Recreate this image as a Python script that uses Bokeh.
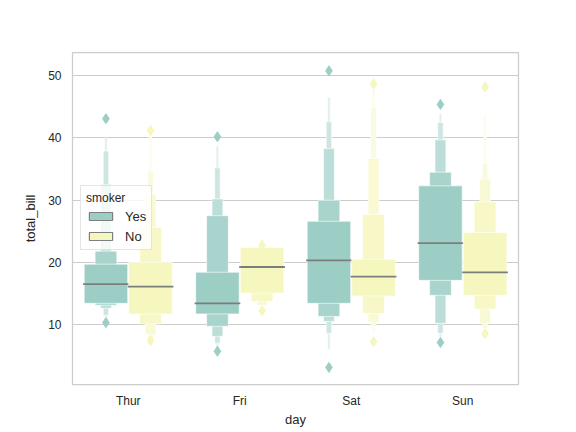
from bokeh.embed import file_html
from bokeh.models import (ColumnDataSource, FactorRange, FixedTicker, Legend,
                          LegendItem, Range1d)
from bokeh.plotting import figure
from bokeh.resources import INLINE
from bokeh.transform import dodge

days = ["Thur", "Fri", "Sat", "Sun"]

# letter-value boxes, innermost level first (lower / upper edge of each level)
thur_yes_lo = [13.4, 13.1, 12.6, 11.5, 10.8]
thur_yes_hi = [19.7, 21.8, 32.5, 37.9, 40.0]
thur_yes_med = 16.5
thur_yes_out = [43.1, 10.3]

thur_no_lo = [11.7, 10.1, 8.4, 7.7, 7.6]
thur_no_hi = [20.0, 25.6, 30.9, 34.6, 40.6]
thur_no_med = 16.1
thur_no_out = [41.2, 7.4]

fri_yes_lo = [11.7, 9.7, 8.1, 7.0, 6.2]
fri_yes_hi = [18.4, 27.5, 30.2, 35.2, 38.7]
fri_yes_med = 13.4
fri_yes_out = [40.2, 5.7]

fri_no_lo = [15.05, 13.7, 13.1]
fri_no_hi = [22.4, 22.5, 22.6]
fri_no_med = 19.25
fri_no_out = [22.75, 12.2]

sat_yes_lo = [13.4, 11.3, 10.5, 8.6, 6.0]
sat_yes_hi = [26.6, 30.0, 38.3, 42.6, 46.5]
sat_yes_med = 20.3
sat_yes_out = [50.8, 3.1]

sat_no_lo = [14.6, 11.8, 10.4, 9.7, 8.8]
sat_no_hi = [20.5, 27.7, 36.7, 44.9, 48.1]
sat_no_med = 17.7
sat_no_out = [48.7, 7.25]

sun_yes_lo = [17.1, 14.7, 10.2, 8.6, 7.9]
sun_yes_hi = [32.3, 34.5, 39.7, 42.5, 43.9]
sun_yes_med = 23.1
sun_yes_out = [45.4, 7.1]

sun_no_lo = [14.7, 12.5, 10.2, 9.4, 8.9]
sun_no_hi = [24.8, 29.7, 33.4, 35.9, 43.5]
sun_no_med = 18.4
sun_no_out = [48.2, 8.5]

yes_groups = [(thur_yes_lo, thur_yes_hi, thur_yes_med, thur_yes_out),
              (fri_yes_lo, fri_yes_hi, fri_yes_med, fri_yes_out),
              (sat_yes_lo, sat_yes_hi, sat_yes_med, sat_yes_out),
              (sun_yes_lo, sun_yes_hi, sun_yes_med, sun_yes_out)]
no_groups = [(thur_no_lo, thur_no_hi, thur_no_med, thur_no_out),
             (fri_no_lo, fri_no_hi, fri_no_med, fri_no_out),
             (sat_no_lo, sat_no_hi, sat_no_med, sat_no_out),
             (sun_no_lo, sun_no_hi, sun_no_med, sun_no_out)]

YES_COLOR = "#9dcec6"
NO_COLOR = "#f6f6bf"
FADE = [0.0, 0.12, 0.32, 0.5, 0.7]
FONT = "Liberation Sans"
NAN = float("nan")


def lighten(hex_color, amount):
    rgb = [int(hex_color[i:i + 2], 16) for i in (1, 3, 5)]
    rgb = [round(c + (255 - c) * amount) for c in rgb]
    return "#{:02x}{:02x}{:02x}".format(*rgb)


def build_sources(groups, color):
    boxes = {'day': [], 'lo': [], 'hi': [], 'w': [], 'color': []}
    meds = {'day': [], 'med': []}
    outs = {'day': [], 'y': []}
    for day, (lo, hi, med, out) in zip(days, groups):
        # deepest (narrowest) levels first so the main box sits on top
        for level in reversed(range(len(lo))):
            boxes['day'].append(day)
            boxes['lo'].append(lo[level])
            boxes['hi'].append(hi[level])
            boxes['w'].append(0.39 * 0.5 ** level)
            boxes['color'].append(lighten(color, FADE[level]))
        meds['day'].append(day)
        meds['med'].append(med)
        for y in out:
            outs['day'].append(day)
            outs['y'].append(y)
    return (ColumnDataSource(boxes), ColumnDataSource(meds),
            ColumnDataSource(outs))


p = figure(x_range=FactorRange(factors=days), y_range=Range1d(0.35, 53.75),
           frame_width=446, frame_height=332,
           min_border_left=72, min_border_top=52, min_border_right=50,
           min_border_bottom=36,
           x_axis_label="day", y_axis_label="total_bill",
           output_backend="svg", toolbar_location=None)

p.background_fill_color = "white"
p.outline_line_color = "#cccccc"
p.outline_line_width = 1.25
p.xgrid.grid_line_color = None
p.ygrid.grid_line_color = "#cccccc"
p.ygrid.grid_line_width = 1
p.yaxis.ticker = FixedTicker(ticks=[10, 20, 30, 40, 50])

for ax in (p.xaxis[0], p.yaxis[0]):
    ax.axis_line_color = None
    ax.major_tick_line_color = None
    ax.minor_tick_line_color = None
    ax.major_tick_out = 0
    ax.major_tick_in = 0
    ax.major_label_text_font = FONT
    ax.major_label_text_font_size = "12px"
    ax.major_label_text_color = "#262626"
    ax.axis_label_text_font = FONT
    ax.axis_label_text_font_size = "13px"
    ax.axis_label_text_font_style = "normal"
    ax.axis_label_text_color = "#262626"
p.xaxis.major_label_standoff = 9
p.xaxis.axis_label_standoff = 1
p.yaxis.major_label_standoff = 11
p.yaxis.axis_label_standoff = 7

for groups, color, offset in ((yes_groups, YES_COLOR, -0.2),
                              (no_groups, NO_COLOR, 0.2)):
    boxes, meds, outs = build_sources(groups, color)
    xpos = dodge('day', offset, range=p.x_range)
    p.vbar(x=xpos, width='w', bottom='lo', top='hi', fill_color='color',
           line_color="white", line_width=0.6, source=boxes)
    p.rect(x=xpos, y='med', width=0.41, height=1.8, height_units='screen',
           fill_color="#7b7f7b", line_color=None, source=meds)
    p.scatter(x=xpos, y='y', marker="diamond", size=10, fill_color=color,
              line_color=color, source=outs)

# legend swatches (no data of their own)
yes_swatch = p.quad(left=[NAN], right=[NAN], bottom=[NAN], top=[NAN],
                    fill_color=YES_COLOR, line_color="#7f7f7f", line_width=1.2)
no_swatch = p.quad(left=[NAN], right=[NAN], bottom=[NAN], top=[NAN],
                   fill_color=NO_COLOR, line_color="#7f7f7f", line_width=1.2)

legend = Legend(items=[LegendItem(label="Yes", renderers=[yes_swatch]),
                       LegendItem(label="No", renderers=[no_swatch])],
                location=(8, 134), title="smoker")
legend.title_text_font = FONT
legend.title_text_font_size = "12px"
legend.title_text_font_style = "normal"
legend.title_text_color = "#262626"
legend.title_standoff = 3
legend.label_text_font = FONT
legend.label_text_font_size = "13px"
legend.label_text_color = "#262626"
legend.glyph_width = 29
legend.glyph_height = 10
legend.label_height = 16
legend.label_standoff = 10
legend.spacing = 4
legend.padding = 5
legend.margin = 0
legend.border_line_color = "#cccccc"
legend.border_line_width = 1
legend.background_fill_alpha = 0.8
p.add_layout(legend, "center")

open("out.html", "w").write(file_html(p, INLINE))
